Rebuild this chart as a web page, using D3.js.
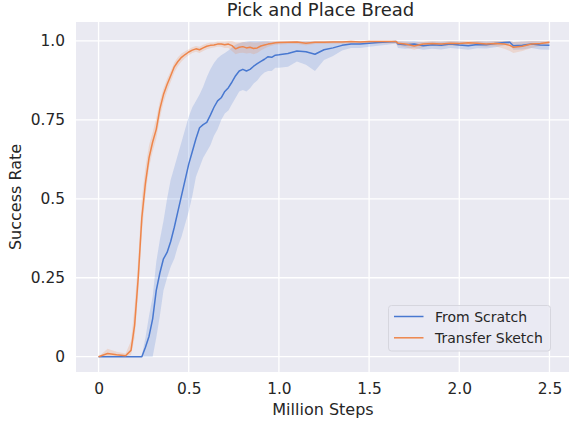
<!DOCTYPE html>
<html><head><meta charset="utf-8">
<script src="https://cdn.jsdelivr.net/npm/d3@7"></script>
<style>body{margin:0;background:#fff;} text{font-family:"DejaVu Sans",sans-serif;fill:#262626;}</style>
</head><body>
<svg id="chart" width="569" height="425"></svg>
<script>
const steps = [0,0.05,0.1,0.15,0.18,0.2,0.22,0.24,0.26,0.28,0.30,0.32,0.34,0.36,0.38,0.40,0.42,0.44,0.46,0.48,0.50,0.52,0.54,0.56,0.58,0.60,0.62,0.64,0.66,0.68,0.70,0.72,0.74,0.76,0.78,0.80,0.82,0.84,0.86,0.88,0.90,0.92,0.94,0.96,0.98,1.00,1.05,1.10,1.15,1.20,1.25,1.30,1.35,1.40,1.45,1.50,1.55,1.60,1.65,1.66,1.70,1.75,1.80,1.85,1.90,1.95,2.00,2.05,2.10,2.15,2.20,2.25,2.28,2.30,2.35,2.40,2.45,2.50];

const scratchMean = [0,0,0,0,0,0,0,0,0.03,0.065,0.12,0.21,0.265,0.31,0.33,0.365,0.41,0.46,0.51,0.56,0.61,0.65,0.69,0.725,0.735,0.742,0.765,0.79,0.81,0.82,0.84,0.852,0.87,0.89,0.905,0.91,0.905,0.91,0.92,0.928,0.935,0.942,0.95,0.948,0.955,0.956,0.96,0.968,0.966,0.958,0.972,0.978,0.986,0.99,0.99,0.993,0.995,0.997,0.998,0.99,0.988,0.99,0.985,0.988,0.986,0.99,0.987,0.985,0.989,0.988,0.992,0.995,0.996,0.985,0.986,0.99,0.987,0.986];
const scratchLow = [0,0,0,0,0,0,0,0,0,0,0,0.06,0.13,0.21,0.25,0.285,0.31,0.35,0.38,0.42,0.46,0.51,0.57,0.6,0.63,0.65,0.67,0.70,0.72,0.75,0.77,0.78,0.80,0.82,0.84,0.845,0.84,0.85,0.865,0.875,0.89,0.90,0.905,0.905,0.915,0.915,0.918,0.935,0.925,0.905,0.94,0.952,0.97,0.978,0.978,0.982,0.985,0.988,0.992,0.978,0.975,0.978,0.972,0.975,0.973,0.978,0.975,0.972,0.977,0.976,0.98,0.986,0.99,0.972,0.973,0.978,0.973,0.972];
const scratchHigh = [0,0,0,0,0,0,0,0.003,0.06,0.13,0.19,0.30,0.37,0.43,0.50,0.56,0.6,0.64,0.68,0.72,0.76,0.79,0.81,0.83,0.855,0.885,0.91,0.93,0.945,0.955,0.962,0.97,0.98,0.988,0.993,0.996,0.998,1.0,1.0,1.0,1.0,1.0,1.0,0.998,0.998,0.998,0.998,0.999,0.999,0.999,0.999,1.0,1.0,1.0,1.0,1.0,1.0,1.0,1.0,1.0,0.999,1.0,0.997,0.999,0.998,1.0,0.999,0.997,1.0,0.999,1.0,1.0,1.0,0.997,0.998,1.0,0.999,0.998];

const sketchMean = [0,0.01,0.006,0.003,0.02,0.10,0.25,0.44,0.55,0.63,0.68,0.72,0.785,0.83,0.862,0.89,0.918,0.935,0.948,0.957,0.965,0.971,0.975,0.972,0.978,0.983,0.986,0.987,0.99,0.99,0.988,0.99,0.985,0.975,0.98,0.982,0.978,0.98,0.976,0.978,0.984,0.987,0.99,0.992,0.994,0.995,0.996,0.997,0.993,0.996,0.996,0.997,0.997,0.998,0.997,0.998,0.998,0.998,0.998,0.993,0.99,0.984,0.99,0.992,0.99,0.993,0.992,0.994,0.993,0.99,0.992,0.99,0.986,0.98,0.983,0.99,0.992,0.996];
const sketchLow = [0,0,0,0,0.005,0.06,0.20,0.39,0.51,0.60,0.65,0.69,0.755,0.805,0.84,0.87,0.90,0.92,0.935,0.946,0.955,0.962,0.966,0.962,0.968,0.974,0.977,0.979,0.982,0.982,0.978,0.978,0.968,0.958,0.962,0.963,0.96,0.962,0.958,0.962,0.97,0.976,0.982,0.985,0.988,0.989,0.99,0.99,0.986,0.99,0.99,0.991,0.991,0.992,0.991,0.992,0.992,0.992,0.992,0.985,0.98,0.972,0.98,0.984,0.982,0.985,0.984,0.986,0.985,0.982,0.983,0.975,0.968,0.962,0.968,0.978,0.984,0.99];
const sketchHigh = [0,0.025,0.016,0.01,0.05,0.16,0.31,0.50,0.60,0.67,0.71,0.755,0.81,0.85,0.88,0.905,0.932,0.948,0.96,0.967,0.974,0.98,0.984,0.982,0.988,0.992,0.995,0.995,0.998,0.998,0.998,1.0,1.0,0.995,0.995,0.997,0.995,0.997,0.995,0.995,0.997,0.998,0.998,0.999,1.0,1.0,1.0,1.0,0.999,1.0,1.0,1.0,1.0,1.0,1.0,1.0,1.0,1.0,1.0,0.999,0.998,0.995,0.998,0.999,0.998,1.0,0.999,1.0,1.0,0.998,1.0,1.0,1.0,0.997,0.998,1.0,1.0,1.0];

const xTicks = [0,0.5,1.0,1.5,2.0,2.5];
const xTickLabels = ["0","0.5","1.0","1.5","2.0","2.5"];
const yTicks = [0,0.25,0.5,0.75,1.0];
const yTickLabels = ["0","0.25","0.5","0.75","1.0"];

const seriesNames = ["From Scratch","Transfer Sketch"];
const colors = ["#4878d0","#ee854a"];

const svg = d3.select("#chart");
const L = 76, T = 22, R = 572, B = 372;
const x = d3.scaleLinear().domain([-0.125,2.625]).range([L,R]);
const y = d3.scaleLinear().domain([-0.0485,1.06]).range([B,T]);

svg.append("rect").attr("x",L).attr("y",T).attr("width",R-L).attr("height",B-T).attr("fill","#eaeaf2");

const grid = svg.append("g");
grid.selectAll(".gx").data(xTicks).enter().append("line")
  .attr("x1",d=>x(d)).attr("x2",d=>x(d)).attr("y1",T).attr("y2",B)
  .attr("stroke","#fff").attr("stroke-width",1.3);
grid.selectAll(".gy").data(yTicks).enter().append("line")
  .attr("x1",L).attr("x2",R).attr("y1",d=>y(d)).attr("y2",d=>y(d))
  .attr("stroke","#fff").attr("stroke-width",1.3);

const series = [
  {name:seriesNames[0], color:colors[0], mean:scratchMean, lo:scratchLow, hi:scratchHigh},
  {name:seriesNames[1], color:colors[1], mean:sketchMean, lo:sketchLow, hi:sketchHigh}
];
const area = d3.area().x((d,i)=>x(steps[i])).y0(d=>y(d[0])).y1(d=>y(d[1]));
const line = d3.line().x((d,i)=>x(steps[i])).y(d=>y(d));
series.forEach(s=>{
  svg.append("path").datum(s.lo.map((v,i)=>[v,s.hi[i]]))
    .attr("d",area).attr("fill",s.color).attr("fill-opacity",0.2).attr("stroke","none");
});
series.forEach(s=>{
  svg.append("path").datum(s.mean).attr("d",line)
    .attr("fill","none").attr("stroke",s.color).attr("stroke-width",1.5).attr("stroke-linejoin","round");
});

// axes via d3 axis
const xAxis = d3.axisBottom(x).tickValues(xTicks).tickFormat((d,i)=>xTickLabels[i]).tickSize(0).tickPadding(11);
const gx = svg.append("g").attr("transform",`translate(0,${B})`).call(xAxis);
gx.select(".domain").remove();
gx.selectAll("text").style("font-size","15.4px").style("font-family","DejaVu Sans").attr("fill","#262626");

const yAxis = d3.axisLeft(y).tickValues(yTicks).tickFormat((d,i)=>yTickLabels[i]).tickSize(0).tickPadding(11);
const gy = svg.append("g").attr("transform",`translate(${L},0)`).call(yAxis);
gy.select(".domain").remove();
gy.selectAll("text").style("font-size","15.4px").style("font-family","DejaVu Sans").attr("fill","#262626");

svg.append("text").attr("x",(L+569)/2 - 2).attr("y",16).attr("text-anchor","middle")
  .style("font-size","18px").text("Pick and Place Bread");
svg.append("text").attr("x",323).attr("y",415).attr("text-anchor","middle")
  .style("font-size","16px").text("Million Steps");
svg.append("text").attr("transform","translate(21,197) rotate(-90)").attr("text-anchor","middle")
  .style("font-size","16px").text("Success Rate");

// legend
const lg = svg.append("g");
lg.append("rect").attr("x",388.5).attr("y",305.5).attr("width",162).attr("height",45.5).attr("rx",3)
  .attr("fill","#eaeaf2").attr("fill-opacity",0.8).attr("stroke","#d6d6de").attr("stroke-width",1);
series.forEach((s,i)=>{
  const yy = 316.5 + i*21.3;
  lg.append("line").attr("x1",394).attr("x2",423.5).attr("y1",yy).attr("y2",yy).attr("stroke",s.color).attr("stroke-width",1.5);
  lg.append("text").attr("x",435).attr("y",yy+5).style("font-size","14px").text(s.name);
});
</script>
</body></html>
